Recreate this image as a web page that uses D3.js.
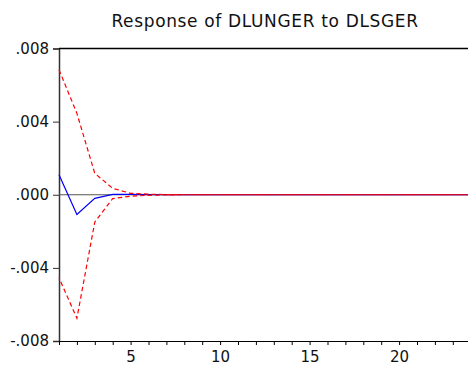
<!DOCTYPE html>
<html>
<head>
<meta charset="utf-8">
<script src="https://cdn.jsdelivr.net/npm/d3@7"></script>
<style>
  body { margin: 0; background: #fff; }
  svg { display: block; font-family: "DejaVu Sans", Verdana, sans-serif; }
</style>
</head>
<body>
<svg id="chart" width="468" height="369"></svg>
<script>
// periods 1..24
const periods = d3.range(1, 25);
// response of DLUNGER to DLSGER
const response = [0.0011, -0.00108, -0.0002, 0.00002, 0.00002, 0.00001, 0, 0, 0, 0, 0, 0, 0, 0, 0, 0, 0, 0, 0, 0, 0, 0, 0, 0];
// +/- 2 s.e. bands
const upper = [0.00684, 0.00445, 0.00117, 0.00035, 0.00008, 0.00003, 0.00001, 0, 0, 0, 0, 0, 0, 0, 0, 0, 0, 0, 0, 0, 0, 0, 0, 0];
const lower = [-0.00454, -0.00676, -0.00149, -0.00021, -0.00008, -0.00003, -0.00001, 0, 0, 0, 0, 0, 0, 0, 0, 0, 0, 0, 0, 0, 0, 0, 0, 0];
const yTicks = [-0.008, -0.004, 0, 0.004, 0.008];
const xTicks = [5, 10, 15, 20];
const title = "Response of DLUNGER to DLSGER";

const svg = d3.select("#chart");
const mLeft = 59, mTop = 48.5, mBottom = 341, mRight = 470.7;

const x = d3.scaleLinear().domain([1, 24]).range([mLeft, mRight]);
const y = d3.scaleLinear().domain([-0.008, 0.008]).range([mBottom, mTop]);

// eviews style: ".004", "-.004", plain hyphen
const fmt = d => d === 0 ? ".000" : (d < 0 ? "-" : "") + Math.abs(d).toFixed(3).replace(/^0/, "");

// title
svg.append("text")
    .attr("x", 265)
    .attr("y", 27)
    .attr("text-anchor", "middle")
    .attr("font-size", 17)
    .attr("letter-spacing", 0.65)
    .attr("fill", "#111")
    .text(title);

// y axis
const yAxis = svg.append("g")
    .attr("transform", `translate(${mLeft},0)`)
    .call(d3.axisLeft(y).tickValues(yTicks).tickFormat(fmt).tickSize(6).tickPadding(4));
yAxis.select(".domain").attr("stroke", "#333").attr("stroke-width", 1.5);
yAxis.selectAll(".tick line").attr("stroke", "#333");
yAxis.selectAll("text")
    .attr("font-size", 15)
    .attr("font-family", "DejaVu Sans, Verdana, sans-serif")
    .attr("fill", "#111");

// x axis, minor ticks every period
const xAxis = svg.append("g")
    .attr("transform", `translate(0,${mBottom})`)
    .call(d3.axisBottom(x).tickValues(periods).tickFormat(d => xTicks.includes(d) ? d : "").tickSize(4).tickPadding(6).tickSizeOuter(0));
xAxis.select(".domain").attr("stroke", "#000").attr("stroke-width", 1.2);
xAxis.selectAll(".tick line").attr("stroke", "#000");
xAxis.selectAll("text")
    .attr("font-size", 15)
    .attr("font-family", "DejaVu Sans, Verdana, sans-serif")
    .attr("fill", "#111");

// top border
svg.append("line")
    .attr("x1", mLeft).attr("x2", 468)
    .attr("y1", mTop).attr("y2", mTop)
    .attr("stroke", "#000").attr("stroke-width", 1.5);

// zero line
svg.append("line")
    .attr("x1", mLeft).attr("x2", 468)
    .attr("y1", y(0)).attr("y2", y(0))
    .attr("stroke", "#555").attr("stroke-width", 1);

const line = d3.line().x((d, i) => x(periods[i])).y(d => y(d));

svg.append("path")
    .datum(response)
    .attr("d", line)
    .attr("fill", "none")
    .attr("stroke", "#0000ff")
    .attr("stroke-width", 1.2);

const dash = [4.5, 3];
const period = dash[0] + dash[1];

const upPath = svg.append("path")
    .datum(upper)
    .attr("d", line)
    .attr("fill", "none")
    .attr("stroke", "#ff0000")
    .attr("stroke-width", 1.2)
    .attr("stroke-dasharray", dash.join(","));

const loPath = svg.append("path")
    .datum(lower)
    .attr("d", line)
    .attr("fill", "none")
    .attr("stroke", "#ff0000")
    .attr("stroke-width", 1.2)
    .attr("stroke-dasharray", dash.join(","));

// shift the lower band's dashes so both bands together look solid on the flat tail
function lenTo(data, n) {
    const p = svg.append("path").attr("d", line(data.slice(0, n)));
    const l = p.node().getTotalLength();
    p.remove();
    return l;
}
const off = ((lenTo(upper, 8) - lenTo(lower, 8) + period / 2) % period + period) % period;
loPath.attr("stroke-dashoffset", off);
</script>
</body>
</html>
